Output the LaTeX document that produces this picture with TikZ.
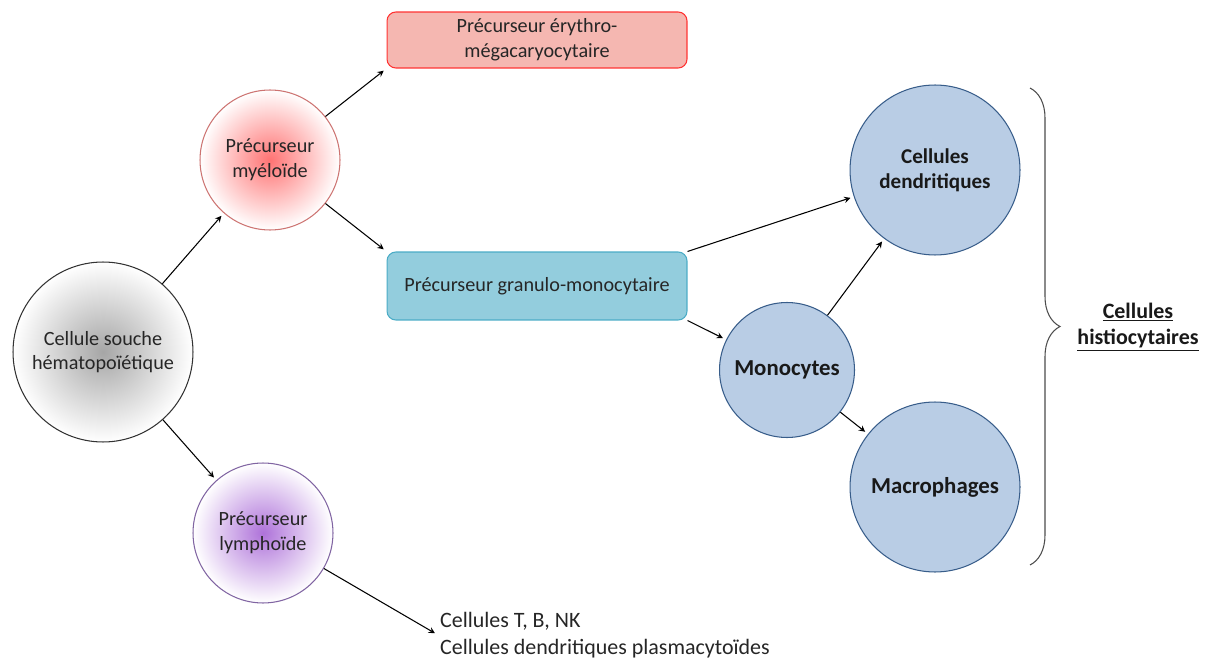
\documentclass[tikz,border=0pt]{standalone}
\usepackage{fontspec}
\setmainfont{Carlito}
\usetikzlibrary{shapes.geometric, arrows, positioning, decorations.pathreplacing}

\definecolor{myelred}{HTML}{C0504D}
\definecolor{erythfill}{HTML}{F5B7B1}
\definecolor{granfill}{HTML}{93CDDD}
\definecolor{granline}{HTML}{4BACC6}
\definecolor{histofill}{HTML}{B9CDE5}
\definecolor{histoline}{HTML}{385D8A}
\definecolor{lymphline}{HTML}{8064A2}
\definecolor{lymphfill}{HTML}{9A4FD0}

\begin{document}
\begin{tikzpicture}[
    x=0.02cm, y=-0.02cm,
    cell/.style={circle, draw, semithick, align=center, text=black!85, font=\fontsize{11.5}{14}\selectfont, shading=radial, outer color=white},
    precbox/.style={rectangle, draw, semithick, rounded corners=5pt, align=center, text=black!85, minimum width=6cm, font=\fontsize{11.5}{14}\selectfont},
    histo/.style={circle, draw=histoline, semithick, fill=histofill, align=center, text=black!90, font=\bfseries},
    arrow/.style={->, >=stealth, semithick, shorten >=2pt},
    every node/.style={inner sep=1pt}
]
\useasboundingbox (0,0) rectangle (1210,662);

% Stem cell
\node[cell, draw=black!80, inner color=black!35, minimum size=3.6cm] (stem) at (103,352) {Cellule souche\\h\'ematopo\"i\'etique};

% Myeloid and lymphoid precursors
\node[cell, draw=myelred!80, inner color=red!55, minimum size=2.8cm] (myel) at (270,160) {Pr\'ecurseur\\my\'elo\"ide};
\node[cell, draw=lymphline, inner color=lymphfill!80, minimum size=2.8cm] (lymph) at (263,533) {Pr\'ecurseur\\lympho\"ide};

\draw[arrow] (stem) -- (myel);
\draw[arrow] (stem) -- (lymph);

% Boxes
\node[precbox, draw=red!80, fill=erythfill, minimum height=1.12cm] (eryth) at (537,40) {Pr\'ecurseur \'erythro-\\m\'egacaryocytaire};
\node[precbox, draw=granline, fill=granfill, minimum height=1.36cm] (gran) at (537,286) {Pr\'ecurseur granulo-monocytaire};

\draw[arrow] (myel) -- (eryth.south west);
\draw[arrow] (myel) -- (gran.north west);

% Histiocytic cells
\node[histo, minimum size=3.4cm, font=\bfseries\fontsize{12}{14}\selectfont] (dend) at (935,170) {Cellules\\dendritiques};
\node[histo, minimum size=2.7cm, font=\bfseries\fontsize{13}{15}\selectfont] (mono) at (787,370) {Monocytes};
\node[histo, minimum size=3.4cm, font=\bfseries\fontsize{13}{15}\selectfont] (macro) at (935,487) {Macrophages};

\draw[arrow] (gran.north east) -- (dend);
\draw[arrow] (gran.south east) -- (mono);
\draw[arrow] (mono) -- (dend);
\draw[arrow] (mono) -- (macro);

% Lymphoid progeny
\node[anchor=west, align=left, text=black!85, font=\fontsize{12.5}{15}\selectfont] (lymcells) at (438,635) {Cellules T, B, NK\\Cellules dendritiques plasmacyto\"ides};
\draw[arrow] (lymph) -- (lymcells.west);

% Brace
\coordinate (bracetop) at (1030,88);
\coordinate (bracebot) at (1030,565);
\draw[black!70, semithick, decorate, decoration={brace, amplitude=0.6cm}] (bracetop) -- (bracebot);
\node[align=center, text=black!90, font=\bfseries\fontsize{12.5}{15}\selectfont] (histlabel) at (1138,327) {\underline{Cellules}\\\underline{histiocytaires}};

\end{tikzpicture}
\end{document}
